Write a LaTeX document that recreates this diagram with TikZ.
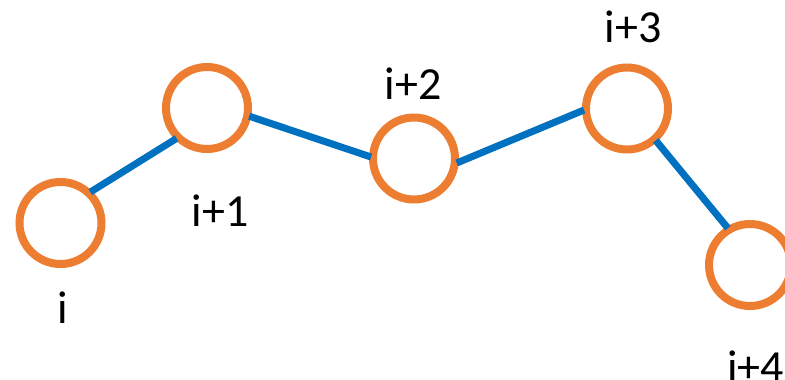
\documentclass[tikz,border=0pt]{standalone}
\usepackage{fontspec}
\setmainfont{Carlito}
\begin{document}
\begin{tikzpicture}[x=1pt,y=-1pt,
  ring/.style={circle,draw=ringorange,line width=8pt,fill=white,minimum size=82pt,inner sep=0pt,outer sep=2pt},
  link/.style={draw=linkblue,line width=7pt},
  lbl/.style={anchor=base,inner sep=0pt,font=\fontsize{46}{46}\selectfont}]
\definecolor{ringorange}{RGB}{237,125,49}
\definecolor{linkblue}{RGB}{0,112,192}
\useasboundingbox (0,0) rectangle (785,380);
\node[ring] (c0) at (60.5,223) {};
\node[ring] (c1) at (207,108) {};
\node[ring] (c2) at (414,158.5) {};
\node[ring] (c3) at (627,108.5) {};
\node[ring] (c4) at (750,265) {};
\draw[link] (c0.46) -- (c1.225.6);
\draw[link] (c1.349.5) -- (c2.178.9);
\draw[link] (c2.354.7) -- (c3.182);
\draw[link] (c3.312.7) -- (c4.121);
\node[lbl] (l0) at (63,323) {i};
\node[lbl] (l1) at (220,226) {i+1};
\node[lbl] (l2) at (413,99) {i+2};
\node[lbl] (l3) at (633,42) {i+3};
\node[lbl,anchor=base west] (l4) at (727,382) {i+4};
\end{tikzpicture}
\end{document}
